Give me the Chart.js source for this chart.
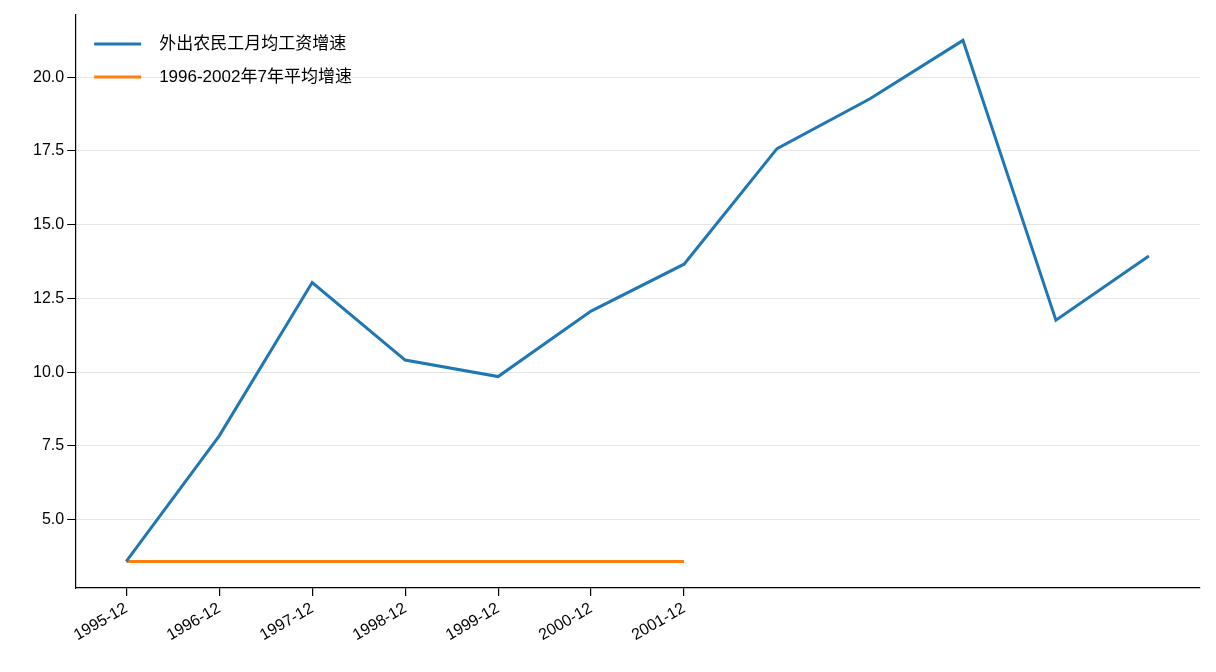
<!DOCTYPE html>
<html><head><meta charset="utf-8">
<script src="https://cdn.jsdelivr.net/npm/chart.js@4"></script>
<style>body{margin:0;background:#fff}#wrap{width:1216px;height:672px}</style>
</head><body><div id="wrap"><canvas id="c"></canvas></div>
<script>
const tickLabels = ['1995-12','1996-12','1997-12','1998-12','1999-12','2000-12','2001-12'];
const wageGrowth = [3.58,7.84,13.04,10.41,9.85,12.07,13.66,17.58,19.27,21.25,11.76,13.94];
const avgGrowth = [3.58,3.58,3.58,3.58,3.58,3.58,3.58];
const seriesNames = ['外出农民工月均工资增速','1996-2002年7年平均增速'];
const colors = ['#1f77b4','#ff7f0e'];
const font = "'Liberation Sans','Noto Sans CJK SC',sans-serif";

const legendInside = {
  id:'legendInside',
  afterDraw(chart){
    const ctx = chart.ctx, a = chart.chartArea;
    ctx.save();
    ctx.font = '17px ' + font;
    ctx.textBaseline = 'middle';
    seriesNames.forEach((n,i)=>{
      const y = a.top + 29 + i*33;
      ctx.strokeStyle = colors[i]; ctx.lineWidth = 3;
      ctx.beginPath(); ctx.moveTo(a.left+19,y); ctx.lineTo(a.left+66,y); ctx.stroke();
      ctx.fillStyle = '#000'; ctx.fillText(n, a.left+84, y);
    });
    ctx.restore();
  }
};

new Chart(document.getElementById('c'), {
  type:'line',
  data:{datasets:[
    {data:wageGrowth.map((v,i)=>({x:i,y:v})),borderColor:colors[0],borderWidth:3,pointRadius:0,tension:0},
    {data:avgGrowth.map((v,i)=>({x:i,y:v})),borderColor:colors[1],borderWidth:3,pointRadius:0,tension:0}
  ]},
  options:{
    responsive:true,maintainAspectRatio:false,animation:false,
    layout:{padding:{left:30,right:16,top:15,bottom:24}},
    plugins:{legend:{display:false},tooltip:{enabled:false}},
    scales:{
      x:{type:'linear',min:-0.55,max:11.55,
        afterBuildTicks(ax){ax.ticks=tickLabels.map((_,i)=>({value:i}));},
        grid:{display:true,drawOnChartArea:false,drawTicks:true,tickLength:8,tickColor:'#000',lineWidth:1.2},
        border:{color:'#000',width:1.2},
        ticks:{autoSkip:false,maxRotation:30,minRotation:30,color:'#000',font:{size:16,family:font},
          callback:v=>tickLabels[v]}},
      y:{min:2.68,max:22.11,
        afterBuildTicks(ax){ax.ticks=[5,7.5,10,12.5,15,17.5,20].map(v=>({value:v}));},
        grid:{color:'#e5e5e5',tickColor:'#000',tickLength:8,lineWidth:1},
        border:{color:'#000',width:1.2},
        ticks:{color:'#000',font:{size:16,family:font},callback:v=>v.toFixed(1)}}
    }
  },
  plugins:[legendInside]
});
</script></body></html>
